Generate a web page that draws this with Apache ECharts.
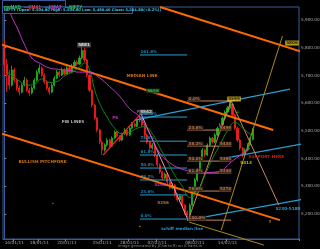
<!DOCTYPE html>
<html><head><meta charset="utf-8">
<script src="https://cdn.jsdelivr.net/npm/echarts@6/dist/echarts.min.js"></script>
<style>html,body{margin:0;padding:0;background:#000;}#c{width:320px;height:249px;}</style>
</head><body><div id="c"></div>
<script>
// ---------- DATA ----------
const N = 118; // total slots on the time axis (last ones are empty projection space)
const tickIdx = [4,14,25,39,50,61,76,89];
const tickLabels = ["14/01/11","18/01/11","20/01/11","25/01/11","28/01/11","02/02/11","08/02/11","14/02/11"];
const yTicks = [5200,5300,5400,5500,5600,5700,5800,5900];
// [open, close, low, high]
const candles = [
[5800,5740,5700,5830],[5740,5701,5640,5760],[5701,5665,5650,5720],[5665,5720,5660,5735],[5720,5683,5675,5728],
[5683,5655,5645,5690],[5655,5640,5628,5662],[5640,5665,5635,5672],[5665,5683,5660,5695],[5683,5647,5640,5690],
[5647,5637,5625,5655],[5637,5655,5632,5662],[5655,5683,5650,5690],[5683,5712,5678,5720],[5712,5727,5705,5740],
[5727,5701,5695,5732],[5701,5676,5670,5708],[5676,5655,5648,5682],[5655,5640,5630,5660],[5640,5665,5636,5672],
[5665,5690,5660,5698],[5690,5712,5686,5720],[5712,5701,5694,5718],[5701,5720,5698,5728],[5720,5705,5700,5726],
[5705,5727,5702,5735],[5727,5712,5706,5732],[5712,5734,5708,5742],[5734,5748,5730,5756],[5748,5741,5735,5755],
[5741,5763,5738,5772],[5763,5790,5758,5812],[5790,5756,5748,5800],[5756,5701,5694,5760],[5701,5647,5640,5706],
[5647,5593,5585,5652],[5593,5546,5540,5598],[5546,5503,5495,5550],[5503,5460,5452,5508],[5460,5431,5413,5465],
[5431,5449,5425,5455],[5449,5467,5444,5474],[5467,5445,5440,5472],[5445,5474,5442,5480],[5474,5496,5470,5502],
[5496,5481,5476,5500],[5481,5467,5460,5485],[5467,5489,5463,5494],[5489,5503,5485,5510],[5503,5485,5480,5507],
[5485,5510,5482,5515],[5510,5525,5506,5532],[5525,5517,5512,5530],[5517,5539,5514,5546],[5539,5546,5532,5556],
[5546,5521,5515,5550],[5521,5485,5480,5525],[5485,5460,5454,5490],[5460,5438,5430,5464],[5438,5449,5432,5456],
[5449,5413,5406,5453],[5413,5377,5370,5418],[5377,5352,5345,5382],[5352,5330,5322,5356],[5330,5344,5326,5350],
[5344,5315,5308,5348],[5315,5294,5288,5320],[5294,5305,5290,5312],[5305,5269,5262,5309],[5269,5251,5244,5274],
[5251,5265,5246,5272],[5265,5232,5225,5268],[5232,5207,5198,5236],[5207,5196,5180,5212],[5196,5232,5192,5238],
[5232,5279,5228,5285],[5279,5323,5274,5330],[5323,5359,5318,5366],[5359,5395,5354,5402],[5395,5431,5390,5438],
[5431,5413,5406,5436],[5413,5449,5409,5455],[5449,5474,5444,5480],[5474,5460,5454,5478],[5460,5485,5456,5492],
[5485,5510,5480,5516],[5510,5521,5505,5528],[5521,5546,5517,5552],[5546,5568,5541,5574],[5568,5582,5563,5590],
[5582,5597,5576,5608],[5597,5557,5550,5600],[5557,5510,5504,5562],[5510,5467,5460,5515],[5467,5438,5430,5472],
[5438,5413,5405,5442],[5413,5431,5409,5437],[5431,5449,5426,5456],[5449,5470,5444,5476],[5470,5505,5466,5510]
];
// moving averages: [slot, value]
const emaFast = [[0,5720],[3,5700],[6,5680],[9,5665],[12,5668],[15,5688],[18,5675],[21,5678],[24,5698],[27,5712],[30,5730],[32,5745],[34,5720],[36,5650],[38,5600],[41,5550],[44,5510],[47,5490],[50,5495],[53,5510],[56,5515],[59,5490],[62,5440],[65,5390],[68,5340],[71,5300],[74,5260],[77,5280],[80,5340],[83,5400],[86,5450],[89,5500],[92,5530],[95,5510],[99,5480]];
const emaSlow = [[2,5940],[3,5911],[5,5875],[8,5813],[11,5763],[14,5745],[18,5727],[22,5722],[26,5718],[30,5712],[34,5712],[38,5691],[42,5660],[46,5625],[50,5580],[54,5550],[58,5490],[62,5420],[66,5385],[70,5365],[74,5355],[78,5348],[82,5350],[86,5355],[90,5384],[94,5412],[98,5438]];
// drawn trend lines: [[slot, value],[slot, value]]
const pitchTop    = [[62.1,5947],[118.7,5785]];
const pitchMedian = [[-0.9,5811],[107.2,5503]];
const pitchLower  = [[-0.9,5490],[109.9,5178]];
const schiffUpper  = [[52.1,5539],[113.9,5651]];
const schiffMiddle = [[88.0,5402],[123.1,5460]];
const schiffLower  = [[72.9,5178],[123.9,5261]];
const handleRed = [[39.4,5413],[54.5,5562]];
const swingDown = [[54.5,5562],[73.3,5178]];
const swingUp   = [[73.3,5178],[90.4,5608]];
const swingProj = [[90.4,5608],[109.5,5232]];
const targetUp  = [[86.5,5142],[110.9,5842]];
const targetDn  = [[73.7,5171],[103.5,5088]];
// fib retracement of the first swing (cyan)
const fibCyanLevels = [5774,5550,5463,5413,5366,5323,5269,5182];
const fibCyanNames  = ["161.8%","100.0%","78.6%","61.8%","50.0%","38.2%","23.6%","0.0%"];
const fibCyanSpan = [54.1,72.9];
// fib retracement of the second swing (tan)
const fibTanLevels = [5608,5503,5445,5391,5348,5283,5178];
const fibTanNames  = ["0.0%","23.6%","38.2%","50.0%","61.8%","78.6%","100.0%"];
const fibTanValues = ["","5499","5438","5388","5348","5278",""];
const fibTanSpan = [72.9,90.4];
// text notes: slot, value, text
const noteSlot = [31.8,54.9,59.3,27.4,44.2,53.3,56.5,15.3,91.6,104.4,96.4,113.1,70.9,114.7,62.1,63.3,105.9,89.2,93.2,19.4,54.1];
const noteVal  = [5810,5698,5644,5532,5546,5568,5568,5388,5615,5406,5384,5218,5146,5817,5305,5240,5171,5575,5568,5236,5153];
const noteText = ["5881","MEDIAN LINE","5656","FIB LINES","P6","P","5542","BULLISH PITCHFORK","5599","SUPPORT HERE","5413","5230-5180","schiff median line","5806","5296","5256","\u21d1","\u2193","\u2193","\u2022","\u2022"];

// ---------- STYLE ----------
const noteColor = ["#fff","#ff8c1a","#33dd55","#ddd","#e040e0","#e040e0","#fff","#ff8c1a","#000","#ff2020","#ffd700","#3cb8f0","#3cb8f0","#000","#e040e0","#d4956a","#ffd700","#22cc22","#22cc22","#22cc22","#ff8c1a"];
const noteBg    = ["#555",null,"#123312",null,null,null,"#555",null,"#e8c020",null,null,null,null,"#e8c020",null,null,null,null,null,null,null];
const ORANGE="#ff6a00", CYAN="#2a9fd0", TAN="#c8865e", OLIVE="#a88c1c", BLUE="#3c5a99";

const cats = Array.from({length:N},(_,i)=>String(i));
const chart = echarts.init(document.getElementById('c'),null,{renderer:'canvas'});

function seg(pts,color,width,clip){
  return {type:'line',xAxisIndex:1,yAxisIndex:0,data:pts,symbol:'none',silent:true,
    clip:clip!==false,lineStyle:{color:color,width:width},z:3};
}
const series = [];
series.push({type:'candlestick',xAxisIndex:0,data:candles,barWidth:1.6,
  itemStyle:{color:'#1fb81f',color0:'#ff1a1a',borderColor:'#1fb81f',borderColor0:'#ff1a1a',borderWidth:0.8},z:2});
series.push({type:'line',xAxisIndex:1,data:emaFast,symbol:'none',smooth:true,lineStyle:{color:'#0f8a0f',width:1},z:4});
series.push({type:'line',xAxisIndex:1,data:emaSlow,symbol:'none',smooth:true,lineStyle:{color:'#c832c8',width:1},z:4});
series.push(seg(pitchTop,ORANGE,2,false));
series.push(seg(pitchMedian,ORANGE,2));
series.push(seg(pitchLower,ORANGE,2));
series.push(seg(schiffUpper,CYAN,1.2,false));
series.push(seg(schiffMiddle,CYAN,1.2,false));
series.push(seg(schiffLower,CYAN,1.2,false));
series.push(seg(handleRed,'#ff2020',1.2));
series.push(seg(swingDown,'#e8a0b0',1));
series.push(seg(swingUp,TAN,1));
series.push(seg(swingProj,TAN,1));
series.push(seg(targetUp,OLIVE,1));
series.push(seg(targetDn,OLIVE,1,false));
fibCyanLevels.forEach(v=>series.push(seg([[fibCyanSpan[0],v],[fibCyanSpan[1],v]],CYAN,1)));
fibTanLevels.forEach(v=>series.push(seg([[fibTanSpan[0],v],[fibTanSpan[1],v]],TAN,1)));

const lbl = (c,bg,extra)=>Object.assign({show:true,position:'inside',color:c,fontSize:4.2,fontWeight:'bold',
  fontFamily:'DejaVu Sans',backgroundColor:bg||'transparent',padding:bg?[0.5,1]:0,formatter:p=>p.data.t},extra||{});
const noteData = noteText.map((t,k)=>({value:[noteSlot[k],noteVal[k]],t:t,label:lbl(noteColor[k],noteBg[k])}));
fibCyanLevels.forEach((v,k)=>noteData.push({value:[fibCyanSpan[0],v],t:fibCyanNames[k],
  label:lbl(CYAN,null,{position:'right',distance:0,offset:[0,-3],fontSize:4})}));
fibTanLevels.forEach((v,k)=>{
  noteData.push({value:[fibTanSpan[0],v],t:fibTanNames[k],label:lbl(TAN,'#3a2418',{position:'right',distance:0,offset:[0,-2],fontSize:4})});
  if(fibTanValues[k]) noteData.push({value:[fibTanSpan[1]-5,v],t:fibTanValues[k],label:lbl(TAN,'#3a2418',{position:'right',distance:0,offset:[0,-2],fontSize:4})});
});
series.push({type:'scatter',xAxisIndex:1,data:noteData,symbolSize:1,itemStyle:{color:'rgba(0,0,0,0)'},silent:true,z:10,clip:false});

const fmt = v=>v.toLocaleString('en-US',{minimumFractionDigits:2,maximumFractionDigits:2});
chart.setOption({
  animation:false,
  backgroundColor:'#000',
  grid:{left:3,right:21,top:7,bottom:10,show:true,borderColor:BLUE,borderWidth:1,backgroundColor:'#000',
        containLabel:false,outerBoundsMode:'none'},
  xAxis:[
    {type:'category',data:cats,boundaryGap:true,
     axisLine:{lineStyle:{color:BLUE}},
     axisTick:{show:true,interval:(i)=>tickIdx.includes(i),length:2,lineStyle:{color:'#888'}},
     axisLabel:{interval:(i)=>tickIdx.includes(i),formatter:(v,i)=>tickLabels[tickIdx.indexOf(i)]||'',
       color:'#aaa',fontSize:4.3,margin:2,fontFamily:'DejaVu Sans',hideOverlap:false},
     splitLine:{show:false}},
    {type:'value',min:-0.5,max:N-0.5,show:false}
  ],
  yAxis:[{type:'value',position:'right',min:5110,max:5947,scale:true,
    axisLine:{show:true,lineStyle:{color:BLUE}},
    axisTick:{show:true,customValues:yTicks,length:2,lineStyle:{color:'#888'}},
    axisLabel:{customValues:yTicks,formatter:fmt,color:'#aaa',fontSize:4.2,margin:2,fontFamily:'DejaVu Sans'},
    splitLine:{show:false}}],
  series:series,
  graphic:[
    {type:'rect',shape:{x:2.5,y:0.5,width:63,height:6.5},style:{fill:'#000',stroke:BLUE,lineWidth:1},z:100},
    {type:'text',x:4,y:1.5,z:101,style:{text:'{g|mvMAD} {r|\u2014EMA1} {m|\u2014EMA2} {g|\u2014NIFTY}',
      rich:{g:{fill:'#2ecc40',fontSize:4.5,fontWeight:'bold'},r:{fill:'#ff3030',fontSize:4.5,fontWeight:'bold'},m:{fill:'#d040d0',fontSize:4.5,fontWeight:'bold'}}}},
    {type:'rect',shape:{x:2.5,y:7,width:130,height:6.5},style:{fill:'#000',stroke:BLUE,lineWidth:1},z:100},
    {type:'text',x:4,y:8.2,z:101,style:{text:'NIFTY (Open: 5,504.80 High: 5,504.80 Low: 5,480.40 Close: 5,504.80(+0.2%))',
      fill:'#3cc6e8',fontSize:3.6,fontWeight:'bold',fontFamily:'DejaVu Sans'}},
    {type:'text',x:160,y:244,z:101,style:{text:'Image generated by JCharts(R) on iCharts.in',fill:'#888',fontSize:3.8,textAlign:'center',fontFamily:'DejaVu Sans'}}
  ]
});
</script></body></html>
